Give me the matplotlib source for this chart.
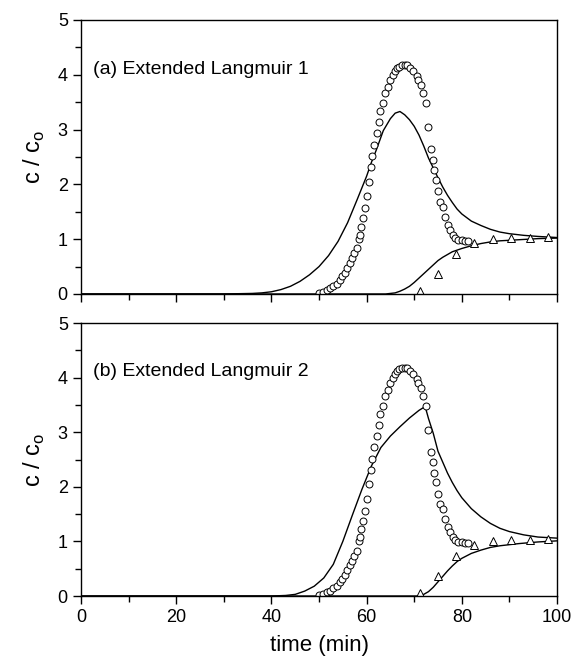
import matplotlib
matplotlib.use("Agg")
import matplotlib.pyplot as plt
from matplotlib.ticker import MultipleLocator

plt.rcParams['font.family'] = ['Liberation Sans', 'DejaVu Sans']

# experimental data (same in both panels)
exp_t = [50.0, 50.9, 51.6, 52.3, 53.0, 53.7, 54.4, 54.9, 55.5, 55.9, 56.5, 57.0, 57.4, 57.9,
         58.3, 58.6, 58.9, 59.3, 59.7, 60.0, 60.4, 60.9, 61.2, 61.6, 62.1, 62.5, 62.8, 63.4,
         63.9, 64.4, 64.9, 65.5, 66.0, 66.3, 66.9, 67.4, 68.1, 68.4, 69.1, 69.8, 70.5, 70.9,
         71.4, 71.9, 72.5, 73.0, 73.5, 73.9, 74.2, 74.6, 75.1, 75.4, 76.0, 76.5, 77.0, 77.5,
         78.1, 78.6, 79.3, 80.0, 80.7, 81.4]
exp_c = [0.01, 0.04, 0.07, 0.10, 0.15, 0.19, 0.26, 0.32, 0.39, 0.47, 0.56, 0.65, 0.74, 0.83,
         1.00, 1.08, 1.23, 1.38, 1.56, 1.78, 2.05, 2.31, 2.51, 2.72, 2.93, 3.13, 3.33, 3.48,
         3.66, 3.78, 3.91, 4.00, 4.06, 4.12, 4.15, 4.17, 4.18, 4.17, 4.12, 4.06, 3.97, 3.91,
         3.81, 3.66, 3.48, 3.04, 2.64, 2.45, 2.26, 2.08, 1.87, 1.68, 1.59, 1.41, 1.26, 1.17,
         1.08, 1.02, 0.99, 0.98, 0.97, 0.97]
tri_t = [71.2, 74.9, 78.7, 82.6, 86.5, 90.3, 94.3, 98.2]
tri_c = [0.05, 0.36, 0.73, 0.93, 1.00, 1.02, 1.03, 1.04]

# model (a) Extended Langmuir 1
a1_t = [0, 30, 36, 38, 40, 42, 44, 46, 48, 50, 52, 54, 56, 58, 60, 61, 62, 63.5, 65, 66, 67,
        68, 69, 70, 71, 72, 73, 74, 75, 76, 77, 78, 79, 80, 82, 84, 86, 88, 90, 93, 96, 100]
a1_c = [0, 0, 0.01, 0.02, 0.04, 0.08, 0.14, 0.23, 0.35, 0.50, 0.70, 0.96, 1.30, 1.72, 2.15,
        2.40, 2.62, 2.98, 3.20, 3.30, 3.33, 3.27, 3.18, 3.06, 2.90, 2.70, 2.48, 2.30, 2.12,
        1.95, 1.80, 1.67, 1.55, 1.46, 1.33, 1.25, 1.18, 1.13, 1.10, 1.07, 1.05, 1.03]
a2_t = [0, 62, 64, 66, 67, 68, 69, 70, 71, 72, 73, 74, 75, 76, 77, 78, 79, 80, 82, 84, 86, 88,
        92, 96, 100]
a2_c = [0, 0, 0.0, 0.02, 0.05, 0.09, 0.14, 0.21, 0.29, 0.37, 0.45, 0.53, 0.61, 0.67, 0.72,
        0.77, 0.80, 0.83, 0.88, 0.92, 0.95, 0.97, 0.99, 1.01, 1.02]

# model (b) Extended Langmuir 2
b1_t = [0, 40, 43, 45, 47, 49, 51, 53, 55, 57, 59, 61, 63, 65, 67, 69, 71, 72.3, 73, 74, 75,
        76, 77, 78, 79, 80, 82, 84, 86, 88, 90, 93, 96, 100]
b1_c = [0, 0, 0.01, 0.03, 0.09, 0.18, 0.33, 0.58, 1.00, 1.48, 1.95, 2.38, 2.72, 2.93, 3.10,
        3.26, 3.40, 3.47, 3.25, 2.98, 2.65, 2.45, 2.25, 2.08, 1.93, 1.80, 1.60, 1.45, 1.33,
        1.24, 1.18, 1.12, 1.08, 1.06]
b2_t = [0, 71, 72, 73, 74, 75, 76, 77, 78, 79, 80, 82, 84, 86, 88, 92, 96, 100]
b2_c = [0, 0, 0.03, 0.08, 0.16, 0.26, 0.36, 0.46, 0.55, 0.63, 0.69, 0.78, 0.84, 0.89, 0.92,
        0.96, 0.99, 1.01]

labels = ["(a) Extended Langmuir 1", "(b) Extended Langmuir 2"]
x_ticks = [0, 20, 40, 60, 80, 100]
y_ticks = [0, 1, 2, 3, 4, 5]

fig = plt.figure(figsize=(5.73, 6.66), dpi=100)
ax1 = fig.add_axes([0.1414, 0.5586, 0.8307, 0.4114])
ax2 = fig.add_axes([0.1414, 0.1051, 0.8307, 0.4099])

panels = [(ax1, a1_t, a1_c, a2_t, a2_c, labels[0], 4.09),
          (ax2, b1_t, b1_c, b2_t, b2_c, labels[1], 4.12)]

for ax, m1t, m1c, m2t, m2c, lab, ly in panels:
    ax.plot(m1t, m1c, color='black', lw=1.0)
    ax.plot(m2t, m2c, color='black', lw=1.0)
    ax.plot(exp_t, exp_c, linestyle='none', marker='o', ms=5.0, mfc='white',
            mec='black', mew=0.7)
    ax.plot(tri_t, tri_c, linestyle='none', marker='^', ms=6.0, mfc='white',
            mec='black', mew=0.7)
    ax.set_xlim(0, 100)
    ax.set_ylim(0, 5)
    ax.set_xticks(x_ticks)
    ax.set_yticks(y_ticks)
    ax.xaxis.set_minor_locator(MultipleLocator(10))
    ax.yaxis.set_minor_locator(MultipleLocator(0.5))
    ax.tick_params(which='both', direction='out', top=False, right=False, width=1.0,
                   labelsize=13, colors='black')
    ax.tick_params(which='major', length=6)
    ax.tick_params(which='minor', length=4)
    for sp in ax.spines.values():
        sp.set_linewidth(1.0)
    ax.set_ylabel(r'c / c$_\mathregular{o}$', fontsize=17, labelpad=8)
    ax.text(2.5, ly, lab, fontsize=14, va='center', ha='left')

ax1.tick_params(axis='x', labelbottom=False)
ax2.set_xlabel('time (min)', fontsize=16, labelpad=6)

fig.savefig('out.png', dpi=100)
